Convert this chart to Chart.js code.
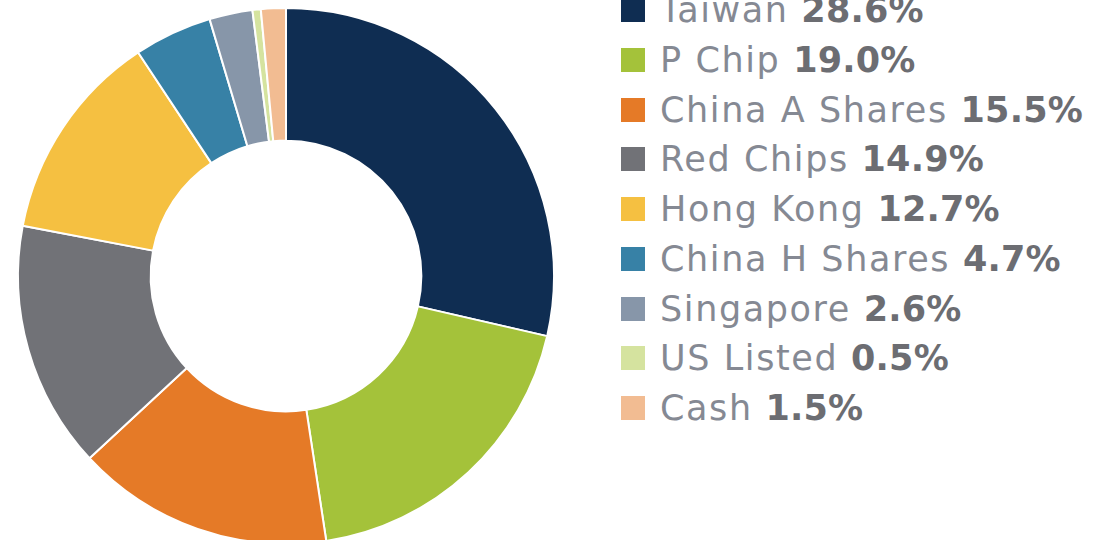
<!DOCTYPE html>
<html>
<head>
<meta charset="utf-8">
<script src="https://cdn.jsdelivr.net/npm/chart.js@4"></script>
<style>
    html, body { margin: 0; padding: 0; background: #fff; overflow: hidden; }
    body { width: 1102px; height: 540px; position: relative; }
    #pie { position: absolute; left: 0; top: 0; }
    .row { position: absolute; left: 621px; height: 50px; line-height: 50px; white-space: nowrap;
           font-family: "DejaVu Sans", sans-serif; font-size: 35px; }
    .sw { position: absolute; left: 0; top: 13px; width: 24px; height: 24px; }
    .lbl { position: absolute; left: 39px; top: 0; color: #858993; font-weight: 400; letter-spacing: 1.6px; }
    .val { color: #6c6d72; font-weight: 700; letter-spacing: 0.2px; }
</style>
</head>
<body>
<canvas id="pie" width="572" height="552"></canvas>
<div id="legend"></div>
<script>
// allocation by market, percent
const markets = ['Taiwan', 'P Chip', 'China A Shares', 'Red Chips', 'Hong Kong', 'China H Shares', 'Singapore', 'US Listed', 'Cash'];
const weights = [28.6, 19.0, 15.5, 14.9, 12.7, 4.7, 2.6, 0.5, 1.5];
const colours = ['#0f2d52', '#a4c23a', '#e57a27', '#717277', '#f5c041', '#3781a6', '#8796a9', '#d5e39f', '#f2bc92'];

document.addEventListener('DOMContentLoaded', function() {
    const ctx = document.getElementById('pie').getContext('2d');

    new Chart(ctx, {
        type: 'doughnut',
        data: {
            labels: markets,
            datasets: [{
                data: weights,
                backgroundColor: colours,
                borderColor: '#ffffff',
                borderWidth: 2
            }]
        },
        options: {
            responsive: false,
            animation: false,
            radius: 268,
            cutout: '50.5%',
            plugins: {
                legend: { display: false },
                tooltip: { enabled: false }
            }
        }
    });

    // legend on the right, label light + value bold
    const legend = document.getElementById('legend');
    markets.forEach((name, i) => {
        const row = document.createElement('div');
        row.className = 'row';
        row.style.top = (10 + i * 49.75 - 25) + 'px';
        row.innerHTML = '<span class="sw" style="background:' + colours[i] + '"></span>' +
            '<span class="lbl">' + name + ' <span class="val">' + weights[i].toFixed(1) + '%</span></span>';
        legend.appendChild(row);
    });
});
</script>
</body>
</html>
